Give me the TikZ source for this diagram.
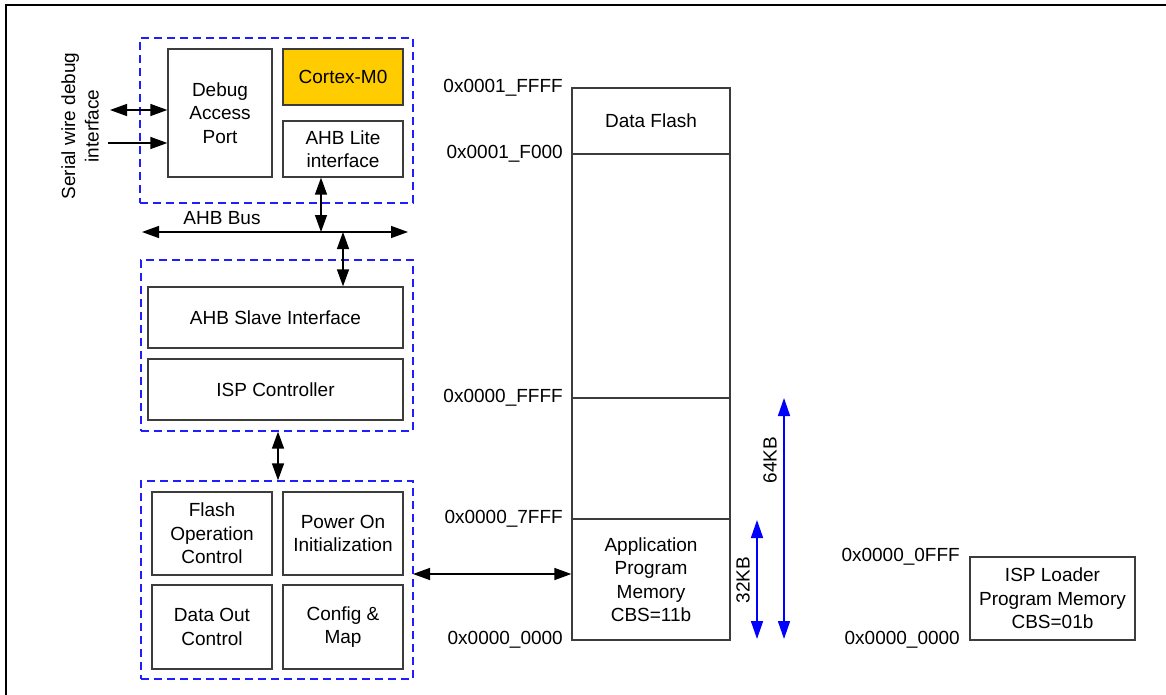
\documentclass[tikz,border=0pt]{standalone}
\usepackage{fontspec}
\setmainfont{Liberation Sans}
\usetikzlibrary{arrows.meta}
\definecolor{cortex}{RGB}{255,204,0}
\definecolor{boxline}{RGB}{60,60,60}
\definecolor{grpblue}{RGB}{30,30,255}
\begin{document}
\begin{tikzpicture}[x=1pt,y=-1pt,
  lbl/.style={font=\fontsize{19}{23.5}\selectfont,align=center,inner sep=0pt,text=black},
  box/.style={draw=boxline,line width=1.3pt,lbl},
  grp/.style={draw=grpblue,dash pattern=on 8pt off 5pt,line width=1.3pt,inner sep=0pt},
  arr/.style={line width=1.4pt,{Triangle[length=17pt,width=12pt]}-{Triangle[length=17pt,width=12pt]}},
  sarr/.style={line width=1.4pt,-{Triangle[length=17pt,width=12pt]}},
  barr/.style={draw=blue,line width=1.6pt,{Triangle[length=18pt,width=12pt]}-{Triangle[length=18pt,width=12pt]}},
  addr/.style={lbl,anchor=east}]
\useasboundingbox (0,0) rectangle (1166,695);
% outer frame
\draw[line width=2.5pt] (6,695) -- (6,5) -- (1166,5);

% group 1
\node[grp,minimum width=273pt,minimum height=165pt] (g1) at (276.5,120.5) {};
\node[box,minimum width=104pt,minimum height=128pt] (dap) at (220,113) {Debug\\Access\\Port};
\node[box,fill=cortex,minimum width=120pt,minimum height=56pt] (cm0) at (343,77) {Cortex-M0};
\node[box,minimum width=120pt,minimum height=56pt] (lite) at (343,149) {AHB Lite\\interface};
\node[lbl,rotate=90] (swd) at (80,126) {Serial wire debug\\interface};

\coordinate (sw1) at (110,110);
\coordinate (sw2) at (108,143);
\draw[arr] (sw1) -- (dap.west |- sw1);
\draw[sarr] (sw2) -- (dap.west |- sw2);

% AHB bus
\coordinate (busL) at (142,232);
\coordinate (busR) at (408,232);
\draw[arr] (busL) -- (busR);
\node[lbl] (buslbl) at (222,218) {AHB Bus};
\coordinate (liteB) at (321,0 |- lite.south);
\draw[arr] (liteB) -- (liteB |- busL);

% group 2
\node[grp,minimum width=272pt,minimum height=171pt] (g2) at (277,345.5) {};
\node[box,minimum width=255pt,minimum height=61pt] (slave) at (275.5,317.5) {AHB Slave Interface};
\node[box,minimum width=255pt,minimum height=61pt] (ispc) at (275.5,389.5) {ISP Controller};
\coordinate (busS) at (343,232);
\draw[arr] (busS) -- (busS |- slave.north);

% group 3
\node[grp,minimum width=272pt,minimum height=198pt] (g3) at (277,580) {};
\node[box,minimum width=120pt,minimum height=83pt] (foc) at (212,533.5) {Flash\\Operation\\Control};
\node[box,minimum width=120pt,minimum height=83pt] (poi) at (343,533.5) {Power On\\Initialization};
\node[box,minimum width=120pt,minimum height=84pt] (doc) at (212,627) {Data Out\\Control};
\node[box,minimum width=120pt,minimum height=84pt] (cfg) at (343,627) {Config \&\\Map};
\coordinate (g23) at (278,0 |- g2.south);
\draw[arr] (g23) -- (g23 |- g3.north);

% memory map
\node[box,minimum width=158pt,minimum height=66pt] (dflash) at (651,121) {Data Flash};
\node[box,minimum width=158pt,minimum height=244pt] (m2) at (651,276) {};
\node[box,minimum width=158pt,minimum height=121pt] (m3) at (651,458.5) {};
\node[box,minimum width=158pt,minimum height=121pt] (app) at (651,579.5) {Application\\Program\\Memory\\CBS=11b};

\coordinate (g3m) at (413,574);
\draw[arr] (g3m) -- (app.west |- g3m);

\node[addr] (a1) at (563,88) {0x0001\_FFFF};
\node[addr] (a2) at (563,154) {0x0001\_F000};
\node[addr] (a3) at (563,398) {0x0000\_FFFF};
\node[addr] (a4) at (563,519) {0x0000\_7FFF};
\node[addr] (a5) at (563,640) {0x0000\_0000};

% size arrows
\coordinate (k32t) at (757,520);
\coordinate (k32b) at (757,639);
\coordinate (k64t) at (784,398);
\coordinate (k64b) at (784,639);
\draw[barr] (k32t) -- (k32b);
\draw[barr] (k64t) -- (k64b);
\node[lbl,rotate=90] (l32) at (743,580) {32KB};
\node[lbl,rotate=90] (l64) at (770,460) {64KB};

% ISP loader
\node[box,minimum width=165pt,minimum height=83pt] (isp) at (1052.5,598.5) {ISP Loader\\Program Memory\\CBS=01b};
\node[addr] (b1) at (960,557) {0x0000\_0FFF};
\node[addr] (b2) at (960,640) {0x0000\_0000};
\end{tikzpicture}
\end{document}
